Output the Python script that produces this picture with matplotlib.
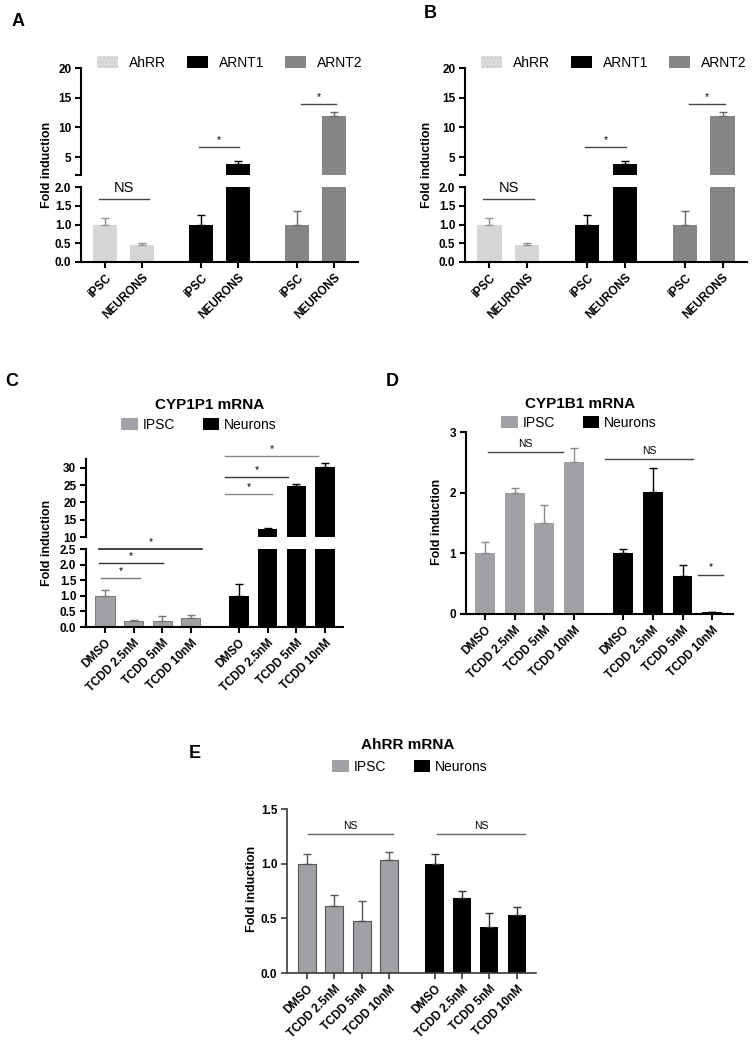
import numpy as np
import matplotlib.pyplot as plt
from matplotlib.patches import Patch

plt.rcParams['font.family'] = ['Liberation Sans', 'DejaVu Sans']
plt.rcParams['font.weight'] = 'bold'
plt.rcParams['hatch.linewidth'] = 0.6

W, H = 753, 1047  # figure size in pixels

# ---- panel A / B data (same figure twice) ----
ab_labels = ['AhRR', 'ARNT1', 'ARNT2']
ab_ticks = ['iPSC', 'NEURONS', 'iPSC', 'NEURONS', 'iPSC', 'NEURONS']
ab_vals = [1.0, 0.45, 1.0, 3.8, 1.0, 12.0]
ab_err = [0.17, 0.05, 0.25, 0.55, 0.37, 0.55]
ab_colors = ['#d6d6d6', '#d6d6d6', '#000000', '#000000', '#858585', '#858585']
ab_ecolors = ['#909090', '#909090', '#000000', '#000000', '#6a6a6a', '#6a6a6a']
# significance: x0, x1, y, text, segment
ab_sig = [(-0.16, 1.19, 1.68, 'NS', 'lo'),
          (2.55, 3.63, 6.7, '*', 'up'),
          (5.31, 6.26, 13.9, '*', 'up')]

# ---- panels C, D, E ----
treat = ['DMSO', 'TCDD 2.5nM', 'TCDD 5nM', 'TCDD 10nM']
groups = ['IPSC', 'Neurons']

cyp1a1_ipsc = [1.0, 0.2, 0.2, 0.3]
cyp1a1_ipsc_err = [0.17, 0.02, 0.15, 0.08]
cyp1a1_neu = [1.0, 12.2, 24.8, 30.4]
cyp1a1_neu_err = [0.38, 0.5, 0.6, 0.9]
c_sig = [(-0.21, 3.39, 2.5, '*', 'lo', '#222222'),
         (-0.21, 2.03, 2.05, '*', 'lo', '#333333'),
         (-0.14, 1.22, 1.56, '*', 'lo', '#777777'),
         (4.19, 7.43, 33.5, '*', 'up', '#888888'),
         (4.19, 6.39, 27.4, '*', 'up', '#333333'),
         (4.19, 5.83, 22.4, '*', 'up', '#888888')]

cyp1b1_ipsc = [1.0, 2.0, 1.5, 2.5]
cyp1b1_ipsc_err = [0.19, 0.08, 0.3, 0.24]
cyp1b1_neu = [1.0, 2.01, 0.62, 0.03]
cyp1b1_neu_err = [0.07, 0.39, 0.18, 0.01]
d_sig = [(0.1, 2.63, 2.67, 'NS'), (4.04, 7.0, 2.56, 'NS'), (7.17, 8.01, 0.64, '*')]

ahrr_ipsc = [1.0, 0.61, 0.48, 1.03]
ahrr_ipsc_err = [0.09, 0.10, 0.18, 0.08]
ahrr_neu = [1.0, 0.69, 0.42, 0.53]
ahrr_neu_err = [0.09, 0.06, 0.13, 0.07]
e_sig = [(0.04, 3.14, 1.27, 'NS'), (4.74, 7.96, 1.27, 'NS')]

IPSC_C = '#a1a1a5'
fig = plt.figure(figsize=(W / 100, H / 100), dpi=100)


def px(x, y):
    return x / W, 1 - y / H


def rect(x0, x1, ytop, ybot):
    return [x0 / W, 1 - ybot / H, (x1 - x0) / W, (ybot - ytop) / H]


def style(ax, lw=1.5, color='black', bottom=True):
    for s in ['top', 'right']:
        ax.spines[s].set_visible(False)
    ax.spines['left'].set_linewidth(lw)
    ax.spines['left'].set_color(color)
    ax.spines['bottom'].set_linewidth(lw)
    ax.spines['bottom'].set_color(color)
    ax.tick_params(width=lw, length=4.5, labelsize=8.5, color=color, pad=2.5)
    if not bottom:
        ax.spines['bottom'].set_visible(False)
        ax.tick_params(axis='x', bottom=False, labelbottom=False)


def draw_bars(ax, xs, vals, err, color, ecolor, width, edge='none', elw=0):
    ax.bar(xs, vals, width, color=color, edgecolor=edge, linewidth=elw, zorder=2)
    ax.errorbar(xs, vals, yerr=[np.zeros(len(vals)), err], fmt='none', ecolor=ecolor,
                elinewidth=1, capsize=3, capthick=1, zorder=3)


def sig(ax, x0, x1, y, s, size, color='#444444', lw=1, off=1.5):
    ax.plot([x0, x1], [y, y], color=color, lw=lw, clip_on=False, zorder=4)
    ax.annotate(s, ((x0 + x1) / 2, y), xytext=(0, off), textcoords='offset points',
                ha='center', va='bottom', fontsize=size, fontweight='normal',
                annotation_clip=False)


def xlabels(ax, xs, labels):
    ax.set_xticks(xs)
    ax.set_xticklabels(labels, rotation=45, ha='right', rotation_mode='anchor', fontsize=8.5)


def legend(ax, handles, labels, x, y, **kw):
    ax.legend(handles, labels, ncol=len(labels), loc='center left',
              bbox_to_anchor=px(x, y), bbox_transform=fig.transFigure, frameon=False,
              prop={'size': 10, 'weight': 'normal'}, borderpad=0, borderaxespad=0, **kw)


# ---------- A and B ----------
def panel_ab(letter, lpos, x0, x1, ylab_x, leg_x):
    up = fig.add_axes(rect(x0, x1, 68, 175))
    lo = fig.add_axes(rect(x0, x1, 187, 262))
    xs = np.array([0, 1, 2.6, 3.6, 5.2, 6.2])
    for ax in (up, lo):
        for i in range(0, 6, 2):
            draw_bars(ax, xs[i:i + 2], ab_vals[i:i + 2], ab_err[i:i + 2],
                      ab_colors[i], ab_ecolors[i], 0.65)
        ax.set_xlim(-0.65, 6.85)
    up.set_ylim(2, 20)
    up.set_yticks([2, 5, 10, 15, 20])
    up.set_yticklabels(['', '5', '10', '15', '20'])
    lo.set_ylim(0, 2)
    lo.set_yticks([0, 0.5, 1, 1.5, 2])
    lo.set_yticklabels(['0.0', '0.5', '1.0', '1.5', '2.0'])
    style(up, bottom=False)
    style(lo)
    xlabels(lo, xs, ab_ticks)
    for a, b, y, s, seg in ab_sig:
        ax = lo if seg == 'lo' else up
        if s == 'NS':
            sig(ax, a, b, y, s, 10.5, off=3)
        else:
            sig(ax, a, b, y, s, 7.5)
    handles = [Patch(facecolor='#dcdcdc', edgecolor='#c2c2c2', hatch='....', lw=0),
               Patch(facecolor='#000000'), Patch(facecolor='#858585')]
    legend(up, handles, ab_labels, leg_x, 63, handlelength=1.5, handleheight=1.0,
           handletextpad=0.8, columnspacing=1.5)
    fig.text(*px(ylab_x, 165), 'Fold induction', rotation=90, ha='center', va='center', fontsize=9)
    fig.text(*px(*lpos), letter, fontsize=13, ha='center', va='center')


panel_ab('A', (18, 21), 81, 358, 47, 97)
panel_ab('B', (430, 14), 465, 747, 427, 481)

# ---------- C ----------
xs_c = np.r_[np.arange(4), np.arange(4) + 4.68]
up = fig.add_axes(rect(86, 343, 459, 537))
lo = fig.add_axes(rect(86, 343, 549, 627))
for ax in (up, lo):
    draw_bars(ax, xs_c[:4], cyp1a1_ipsc, cyp1a1_ipsc_err, IPSC_C, '#777777', 0.67,
              edge='#6a6a6a', elw=0.6)
    draw_bars(ax, xs_c[4:], cyp1a1_neu, cyp1a1_neu_err, 'black', 'black', 0.67)
    ax.set_xlim(-0.66, 8.31)
up.set_ylim(10, 32.6)
up.set_yticks([10, 15, 20, 25, 30])
lo.set_ylim(0, 2.5)
lo.set_yticks([0, 0.5, 1, 1.5, 2, 2.5])
lo.set_yticklabels(['0.0', '0.5', '1.0', '1.5', '2.0', '2.5'])
style(up, bottom=False)
style(lo)
xlabels(lo, xs_c, treat * 2)
for a, b, y, s, seg, col in c_sig:
    sig(lo if seg == 'lo' else up, a, b, y, s, 7.5, color=col, lw=1.2 if col == '#222222' else 1)
legend(up, [Patch(facecolor=IPSC_C), Patch(facecolor='black')], groups, 121, 425,
       handlelength=1.2, handleheight=0.9, handletextpad=0.35, columnspacing=2.0)
fig.text(*px(210, 405), 'CYP1P1 mRNA', ha='center', va='center', fontsize=11)
fig.text(*px(47, 543), 'Fold induction', rotation=90, ha='center', va='center', fontsize=9)
fig.text(*px(12, 382), 'C', fontsize=13, ha='center', va='center')

# ---------- D ----------
xs_d = np.r_[np.arange(4), np.arange(4) + 4.65]
ax = fig.add_axes(rect(466, 733, 432, 614))
draw_bars(ax, xs_d[:4], cyp1b1_ipsc, cyp1b1_ipsc_err, IPSC_C, '#8a8a8a', 0.67)
draw_bars(ax, xs_d[4:], cyp1b1_neu, cyp1b1_neu_err, 'black', 'black', 0.67)
ax.set_xlim(-0.64, 8.35)
ax.set_ylim(0, 3)
ax.set_yticks([0, 1, 2, 3])
style(ax)
xlabels(ax, xs_d, treat * 2)
for a, b, y, s in d_sig:
    sig(ax, a, b, y, s, 7.5, off=2)
legend(ax, [Patch(facecolor=IPSC_C), Patch(facecolor='black')], groups, 501, 423,
       handlelength=1.2, handleheight=0.9, handletextpad=0.35, columnspacing=2.0)
fig.text(*px(580, 404), 'CYP1B1 mRNA', ha='center', va='center', fontsize=11)
fig.text(*px(437, 522), 'Fold induction', rotation=90, ha='center', va='center', fontsize=9)
fig.text(*px(392, 382), 'D', fontsize=13, ha='center', va='center')

# ---------- E ----------
xs_e = np.r_[np.arange(4), np.arange(4) + 4.65]
ax = fig.add_axes(rect(287, 536, 809, 973))
draw_bars(ax, xs_e[:4], ahrr_ipsc, ahrr_ipsc_err, IPSC_C, '#555555', 0.66,
          edge='#555555', elw=0.8)
draw_bars(ax, xs_e[4:], ahrr_neu, ahrr_neu_err, 'black', '#333333', 0.66)
ax.set_xlim(-0.73, 8.35)
ax.set_ylim(0, 1.5)
ax.set_yticks([0, 0.5, 1, 1.5])
ax.set_yticklabels(['0.0', '0.5', '1.0', '1.5'])
style(ax, lw=1.2, color='#3a3a3a')
xlabels(ax, xs_e, treat * 2)
for a, b, y, s in e_sig:
    sig(ax, a, b, y, s, 7.5, color='#666666', off=2)
legend(ax, [Patch(facecolor=IPSC_C), Patch(facecolor='black')], groups, 332, 767,
       handlelength=1.2, handleheight=0.9, handletextpad=0.35, columnspacing=2.0)
fig.text(*px(408, 745), 'AhRR mRNA', ha='center', va='center', fontsize=11)
fig.text(*px(252, 889), 'Fold induction', rotation=90, ha='center', va='center', fontsize=9)
fig.text(*px(195, 753), 'E', fontsize=13, ha='center', va='center')

fig.savefig('out.png', dpi=100)
